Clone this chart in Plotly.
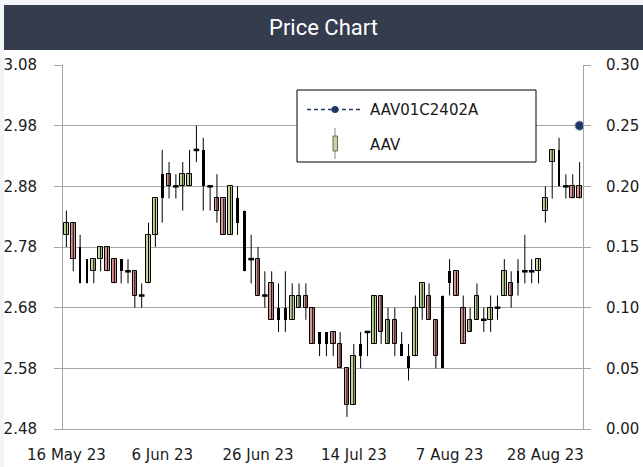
import plotly.graph_objects as go
from datetime import date

# ---------------- data ----------------
session_dates = [
    "2023-05-16", "2023-05-17", "2023-05-18", "2023-05-19", "2023-05-22", "2023-05-23",
    "2023-05-24", "2023-05-25", "2023-05-26", "2023-05-29", "2023-05-30", "2023-05-31",
    "2023-06-01", "2023-06-02", "2023-06-06", "2023-06-07", "2023-06-08", "2023-06-09",
    "2023-06-12", "2023-06-13", "2023-06-14", "2023-06-15", "2023-06-16", "2023-06-19",
    "2023-06-20", "2023-06-21", "2023-06-22", "2023-06-23", "2023-06-26", "2023-06-27",
    "2023-06-28", "2023-06-29", "2023-06-30", "2023-07-03", "2023-07-04", "2023-07-05",
    "2023-07-06", "2023-07-07", "2023-07-10", "2023-07-11", "2023-07-12", "2023-07-13",
    "2023-07-14", "2023-07-17", "2023-07-18", "2023-07-19", "2023-07-20", "2023-07-21",
    "2023-07-24", "2023-07-25", "2023-07-26", "2023-07-27", "2023-07-31", "2023-08-02",
    "2023-08-03", "2023-08-04", "2023-08-07", "2023-08-08", "2023-08-09", "2023-08-10",
    "2023-08-11", "2023-08-15", "2023-08-16", "2023-08-17", "2023-08-18", "2023-08-21",
    "2023-08-22", "2023-08-23", "2023-08-24", "2023-08-25", "2023-08-28", "2023-08-29",
    "2023-08-30", "2023-08-31", "2023-09-01", "2023-09-04",
]
aav_open = [
    2.80, 2.82, 2.78, 2.76, 2.74, 2.76, 2.78, 2.76, 2.76, 2.74, 2.74, 2.70,
    2.72, 2.80, 2.90, 2.90, 2.88, 2.88, 2.88, 2.94, 2.94, 2.88, 2.86, 2.86,
    2.80, 2.86, 2.84, 2.76, 2.76, 2.70, 2.72, 2.68, 2.68, 2.66, 2.68, 2.70,
    2.68, 2.64, 2.64, 2.64, 2.62, 2.58, 2.52, 2.62, 2.64, 2.62, 2.70, 2.62,
    2.66, 2.62, 2.60, 2.60, 2.68, 2.70, 2.66, 2.70, 2.74, 2.74, 2.68, 2.64,
    2.66, 2.66, 2.66, 2.68, 2.70, 2.72, 2.74, 2.74, 2.74, 2.74, 2.84, 2.92,
    2.94, 2.88, 2.88, 2.88,
]
aav_high = [
    2.84, 2.82, 2.80, 2.76, 2.76, 2.78, 2.78, 2.76, 2.76, 2.76, 2.74, 2.72,
    2.82, 2.86, 2.94, 2.92, 2.90, 2.92, 2.94, 2.98, 2.96, 2.88, 2.90, 2.86,
    2.88, 2.88, 2.84, 2.80, 2.78, 2.74, 2.74, 2.72, 2.74, 2.72, 2.72, 2.72,
    2.68, 2.64, 2.64, 2.64, 2.64, 2.58, 2.62, 2.64, 2.64, 2.70, 2.70, 2.68,
    2.68, 2.64, 2.62, 2.70, 2.72, 2.72, 2.66, 2.70, 2.76, 2.74, 2.70, 2.68,
    2.72, 2.68, 2.70, 2.70, 2.76, 2.74, 2.76, 2.80, 2.76, 2.76, 2.88, 2.94,
    2.96, 2.90, 2.90, 2.92,
]
aav_low = [
    2.78, 2.74, 2.72, 2.72, 2.72, 2.74, 2.74, 2.72, 2.72, 2.72, 2.68, 2.68,
    2.72, 2.78, 2.82, 2.86, 2.86, 2.84, 2.88, 2.92, 2.84, 2.84, 2.82, 2.80,
    2.80, 2.80, 2.74, 2.72, 2.70, 2.68, 2.66, 2.64, 2.64, 2.66, 2.68, 2.66,
    2.62, 2.60, 2.60, 2.60, 2.58, 2.50, 2.52, 2.58, 2.60, 2.62, 2.62, 2.62,
    2.60, 2.60, 2.56, 2.60, 2.66, 2.66, 2.58, 2.58, 2.70, 2.70, 2.62, 2.64,
    2.66, 2.64, 2.64, 2.66, 2.70, 2.68, 2.70, 2.72, 2.72, 2.72, 2.82, 2.86,
    2.88, 2.86, 2.86, 2.86,
]
aav_close = [
    2.82, 2.76, 2.72, 2.72, 2.76, 2.78, 2.74, 2.72, 2.74, 2.74, 2.70, 2.70,
    2.80, 2.86, 2.86, 2.88, 2.88, 2.90, 2.90, 2.94, 2.88, 2.88, 2.84, 2.80,
    2.88, 2.82, 2.74, 2.76, 2.70, 2.70, 2.66, 2.66, 2.66, 2.70, 2.70, 2.68,
    2.62, 2.62, 2.62, 2.62, 2.58, 2.52, 2.60, 2.60, 2.64, 2.70, 2.64, 2.66,
    2.62, 2.60, 2.58, 2.68, 2.72, 2.66, 2.60, 2.58, 2.72, 2.70, 2.62, 2.66,
    2.70, 2.66, 2.68, 2.68, 2.74, 2.70, 2.72, 2.74, 2.74, 2.76, 2.86, 2.94,
    2.88, 2.88, 2.86, 2.86,
]
# session type: U = up bar, D = down bar, N = neutral (plain black bar)
aav_session = list(
    "UDNNUUDDNNDNUUNDNUUNNNDDUNNNDNDNNUUDDNNDDDUNNUDUDNNUUDDNNDDUUNUNUDNNNUUUNNDD"
)
warrant_dates = ["2023-09-04"]
warrant_values = [0.25]

x_tick_labels = ["16 May 23", "6 Jun 23", "26 Jun 23", "14 Jul 23", "7 Aug 23", "28 Aug 23"]
left_ticks = [2.48, 2.58, 2.68, 2.78, 2.88, 2.98, 3.08]
right_ticks = [0.00, 0.05, 0.10, 0.15, 0.20, 0.25, 0.30]

# ---------------- styling ----------------
W, H = 643, 467
ML, MR, MT, MB = 63, 60, 65, 38
GREEN = "#c3d69b"
RED = "#d99694"
NAVY = "#1f3864"
GRID = "#a6a6a6"
TITLE_BG = "#353c4e"
FONT = "DejaVu Sans"
TXT = "#1a1a1a"


def label(ds):
    d = date.fromisoformat(ds)
    return f"{d.day} {d.strftime('%b %y')}"


cats = [label(d) for d in session_dates]

fig = go.Figure()

# wicks
wx, wy = [], []
for c, h, l in zip(cats, aav_high, aav_low):
    wx += [c, c, None]
    wy += [l, h, None]
fig.add_trace(go.Scatter(x=wx, y=wy, mode="lines", line=dict(color="black", width=1),
                         showlegend=False, hoverinfo="skip"))

# bodies
for kind, color, width, lw in [("U", GREEN, 0.68, 1), ("D", RED, 0.68, 1), ("N", "black", 0.4, 0)]:
    idx = [i for i, k in enumerate(aav_session) if k == kind]
    fig.add_trace(go.Bar(
        x=[cats[i] for i in idx],
        y=[abs(aav_close[i] - aav_open[i]) for i in idx],
        base=[min(aav_open[i], aav_close[i]) for i in idx],
        width=width,
        marker=dict(color=color, line=dict(color="black", width=lw)),
        showlegend=False,
    ))

# doji ticks
dj = [i for i in range(len(cats)) if abs(aav_open[i] - aav_close[i]) < 1e-9]
fig.add_trace(go.Scatter(
    x=[cats[i] for i in dj], y=[aav_open[i] for i in dj], mode="markers",
    marker=dict(symbol="line-ew", size=4, line=dict(color="black", width=2.5)),
    showlegend=False, hoverinfo="skip"))

# warrant series
fig.add_trace(go.Scatter(
    x=[label(d) for d in warrant_dates], y=warrant_values, yaxis="y2",
    mode="lines+markers", line=dict(color=NAVY, dash="dash", width=1.5),
    marker=dict(color=NAVY, size=9, line=dict(color="#6f7fa0", width=1)),
    name="AAV01C2402A", showlegend=False))

pw, ph = W - ML - MR, H - MT - MB


def px(x):
    return (x - ML) / pw


def py(y):
    return (H - MB - y) / ph


shapes = [
    dict(type="rect", xref="paper", yref="paper", x0=px(0), x1=px(W), y0=py(5), y1=py(0),
         fillcolor="#f4f5f9", line=dict(width=0), layer="below"),
    dict(type="rect", xref="paper", yref="paper", x0=px(0), x1=px(4), y0=py(H), y1=py(0),
         fillcolor="#f4f5f9", line=dict(width=0), layer="below"),
    dict(type="rect", xref="paper", yref="paper", x0=px(4), x1=px(W), y0=py(50), y1=py(5),
         fillcolor=TITLE_BG, line=dict(width=0)),
    # legend box
    dict(type="rect", xref="paper", yref="paper", x0=px(297), x1=px(536), y0=py(162), y1=py(90),
         fillcolor="white", line=dict(color="black", width=1)),
    dict(type="line", xref="paper", yref="paper", x0=px(307), x1=px(361), y0=py(109.5), y1=py(109.5),
         line=dict(color=NAVY, width=1.5, dash="4px,3px")),
    dict(type="circle", xref="paper", yref="paper", x0=px(331.5), x1=px(338.5), y0=py(113), y1=py(106),
         fillcolor=NAVY, line=dict(color=NAVY, width=0)),
    dict(type="line", xref="paper", yref="paper", x0=px(335), x1=px(335), y0=py(159), y1=py(128),
         line=dict(color="#888888", width=1)),
    dict(type="rect", xref="paper", yref="paper", x0=px(333), x1=px(337.5), y0=py(151), y1=py(136),
         fillcolor=GREEN, line=dict(color="#666666", width=1)),
]

annotations = [
    dict(text="Price Chart", xref="paper", yref="paper", x=px(323), y=py(27.5),
         xanchor="center", yanchor="middle", showarrow=False,
         font=dict(family="Roboto", size=22, color="white")),
    dict(text="AAV01C2402A", xref="paper", yref="paper", x=px(368), y=py(110),
         xanchor="left", yanchor="middle", showarrow=False,
         font=dict(family=FONT, size=15, color=TXT)),
    dict(text="AAV", xref="paper", yref="paper", x=px(368), y=py(145),
         xanchor="left", yanchor="middle", showarrow=False,
         font=dict(family=FONT, size=15, color=TXT)),
]

tickfont = dict(family=FONT, size=15, color=TXT)
fig.update_layout(
    width=W, height=H,
    margin=dict(l=ML, r=MR, t=MT, b=MB, pad=0, autoexpand=False),
    paper_bgcolor="white", plot_bgcolor="white",
    barmode="overlay", bargap=0,
    showlegend=False,
    shapes=shapes, annotations=annotations,
    xaxis=dict(type="category", categoryorder="array", categoryarray=cats,
               range=[-0.5, len(cats) - 0.5], automargin=False,
               tickmode="array", tickvals=x_tick_labels, ticktext=x_tick_labels,
               showgrid=False, showline=True, linecolor=GRID, linewidth=1,
               ticks="", tickfont=tickfont, ticklabelstandoff=12, zeroline=False),
    yaxis=dict(range=[left_ticks[0], left_ticks[-1]], tickmode="array", tickvals=left_ticks,
               ticktext=[f"{v:.2f}" for v in left_ticks], automargin=False,
               showgrid=True, gridcolor=GRID, gridwidth=1,
               showline=True, linecolor=GRID, linewidth=1,
               ticks="outside", ticklen=8, tickcolor=GRID, tickwidth=1,
               tickfont=tickfont, ticklabelstandoff=14, zeroline=False),
    yaxis2=dict(overlaying="y", side="right", range=[right_ticks[0], right_ticks[-1]],
                tickmode="array", tickvals=right_ticks, ticktext=[f"{v:.2f}" for v in right_ticks],
                automargin=False,
                showgrid=False, showline=True, linecolor=GRID, linewidth=1,
                ticks="outside", ticklen=7, tickcolor=GRID, tickwidth=1,
                tickfont=tickfont, ticklabelstandoff=12, zeroline=False),
)

fig.write_html("out.html", config={"displayModeBar": False},
               post_script="document.body.style.margin='0';document.body.style.padding='0';")
